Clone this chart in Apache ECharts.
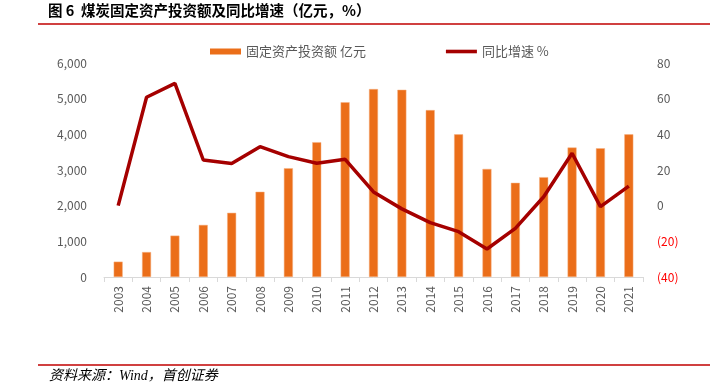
<!DOCTYPE html>
<html><head><meta charset="utf-8">
<script src="https://cdn.jsdelivr.net/npm/echarts@6/dist/echarts.min.js"></script>
<style>html,body{margin:0;padding:0;background:#fff}#c{width:710px;height:386px}</style>
</head><body><div id="c"></div>
<script>
const years = ['2003','2004','2005','2006','2007','2008','2009','2010','2011','2012','2013','2014','2015','2016','2017','2018','2019','2020','2021'];
const investment = [430,700,1160,1460,1800,2390,3050,3780,4900,5270,5250,4680,4000,3030,2640,2800,3630,3610,4000];
const growth = [0,60.8,68.6,25.6,23.6,33.1,27.5,23.8,26.0,7.7,-1.8,-9.5,-14.6,-24.3,-12.7,5.0,29.4,-0.5,11.0];
const leftTicks = {min:0,max:6000,interval:1000};
const rightTicks = {min:-40,max:80,interval:20};
const titleText = '图 6  煤炭固定资产投资额及同比增速（亿元，%）';
const sourceText = '资料来源：Wind，首创证券';
const barName = '固定资产投资额 亿元';
const lineName = '同比增速 %';

const chart = echarts.init(document.getElementById('c'));
const gray = '#595959';
chart.setOption({
  animation:false,
  textStyle:{fontFamily:'"Noto Sans CJK SC","Noto Sans",sans-serif'},
  graphic:[
    {type:'text',left:48,top:3,style:{text:titleText,font:'bold 14.5px "Noto Sans CJK SC"',fill:'#000'}},
    {type:'line',shape:{x1:38,y1:24,x2:710,y2:24},style:{stroke:'#C00000',lineWidth:1.5}},
    {type:'line',shape:{x1:38,y1:365,x2:710,y2:365},style:{stroke:'#C00000',lineWidth:1.5}},
    {type:'text',left:49,top:369,style:{text:sourceText,font:'italic 14px "Liberation Serif","Noto Sans CJK SC"',fill:'#000'}}
  ],
  legend:{
    top:40,left:205,itemGap:80,itemWidth:31,itemHeight:6,
    textStyle:{color:gray,fontSize:13},
    data:[{name:barName,icon:'rect',itemStyle:{color:'#EB6E19',borderWidth:0}},
          {name:lineName,icon:'path://M0,0H31V3.6H0Z',itemStyle:{color:'#A50000',borderWidth:0}}]
  },
  grid:{left:104,right:67,top:63,bottom:109},
  xAxis:{
    type:'category',data:years,
    axisLine:{lineStyle:{color:'#D9D9D9'}},
    axisTick:{show:true,length:5,lineStyle:{color:'#D9D9D9'}},
    axisLabel:{rotate:90,color:gray,fontSize:12,margin:9}
  },
  yAxis:[
    {type:'value',min:leftTicks.min,max:leftTicks.max,interval:leftTicks.interval,
     axisLine:{show:false},axisTick:{show:false},splitLine:{show:false},
     axisLabel:{color:gray,fontSize:12,margin:17,formatter:v=>v.toLocaleString('en-US')}},
    {type:'value',min:rightTicks.min,max:rightTicks.max,interval:rightTicks.interval,
     axisLine:{show:false},axisTick:{show:false},splitLine:{show:false},
     axisLabel:{fontSize:12,margin:14,
       color:v=>(Number(v)<0?'#FF0000':gray),
       formatter:v=>v<0?'('+(-v)+')':String(v)}}
  ],
  series:[
    {name:barName,type:'bar',data:investment,barWidth:9,
     itemStyle:{color:'#EB6E19',borderColor:'#F4B183',borderWidth:0.5}},
    {name:lineName,type:'line',yAxisIndex:1,data:growth,symbol:'none',
     lineStyle:{color:'#A50000',width:3.5},itemStyle:{color:'#A50000'}}
  ]
});
</script></body></html>
